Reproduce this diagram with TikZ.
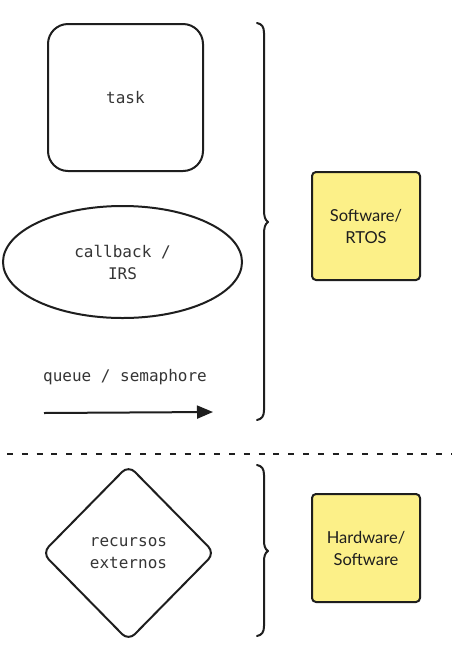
\documentclass[tikz,border=0pt]{standalone}
\usepackage{fontspec}
\newfontfamily\handfont{DejaVu Sans Mono}
\newfontfamily\labelfont{Lato}
\usetikzlibrary{arrows.meta,shapes.geometric}
\definecolor{ink}{HTML}{1E1E1E}
\definecolor{handink}{HTML}{353535}
\definecolor{note}{HTML}{FCF088}
\tikzset{
  shape line/.style={draw=ink, line width=2pt},
  handtext/.style={font=\handfont\fontsize{16}{22}\selectfont, text=handink, align=center},
  notebox/.style={shape line, fill=note, rounded corners=4pt, minimum width=108pt, minimum height=108pt,
    font=\labelfont\fontsize{16.5}{22}\selectfont, text=ink, align=center},
  bracestroke/.style={draw=ink, line width=2pt, line cap=round, line join=round}
}
\begin{document}
\begin{tikzpicture}[x=1pt,y=-1pt]
\useasboundingbox[fill=white] (0,0) rectangle (452,657);

% task
\node[shape line, rounded corners=20pt, minimum width=155pt, minimum height=147pt, inner sep=0pt,
  handtext] (task) at (125.5,97.5) {task};

% callback / IRS
\node[shape line, ellipse, minimum width=239pt, minimum height=112pt, inner sep=0pt,
  handtext] (cb) at (122.5,262) {callback /\\IRS};

% queue / semaphore
\node[handtext] (qlabel) at (125,377) {queue / semaphore};
\coordinate (qs) at (44,413);
\coordinate (qe) at (213,412);
\draw[ink, line width=2pt, -{Triangle[length=16pt,width=13pt]}] (qs) -- (qe);

% top brace
\coordinate (b1t) at (257,23);
\coordinate (b1m) at (268,222);
\coordinate (b1b) at (257,420);
\draw[bracestroke] (b1t) .. controls (262,24) and (264,27) .. (264,33)
  -- (264,210) .. controls (264,216) and (265,220) .. (b1m)
  .. controls (265,224) and (264,228) .. (264,234)
  -- (264,410) .. controls (264,416) and (262,419) .. (b1b);

% Software/RTOS
\node[notebox] (sw) at (366,226) {Software/\\RTOS};

% dashed separator
\coordinate (d1) at (7,454);
\coordinate (d2) at (452,454);
\draw[ink, line width=2pt, dash pattern=on 6pt off 8.8pt] (d1) -- (d2);

% recursos externos
\node[shape line, diamond, minimum width=173pt, minimum height=176pt, inner sep=0pt, rounded corners=9pt,
  handtext] (rec) at (128.5,553) {recursos\\externos};

% bottom brace
\coordinate (b2t) at (257,465);
\coordinate (b2m) at (268,551);
\coordinate (b2b) at (257,636);
\draw[bracestroke] (b2t) .. controls (262,466) and (264,469) .. (264,475)
  -- (264,540) .. controls (264,546) and (265,549) .. (b2m)
  .. controls (265,553) and (264,556) .. (264,562)
  -- (264,626) .. controls (264,632) and (262,635) .. (b2b);

% Hardware/Software
\node[notebox] (hw) at (366,548) {Hardware/\\Software};
\end{tikzpicture}
\end{document}
